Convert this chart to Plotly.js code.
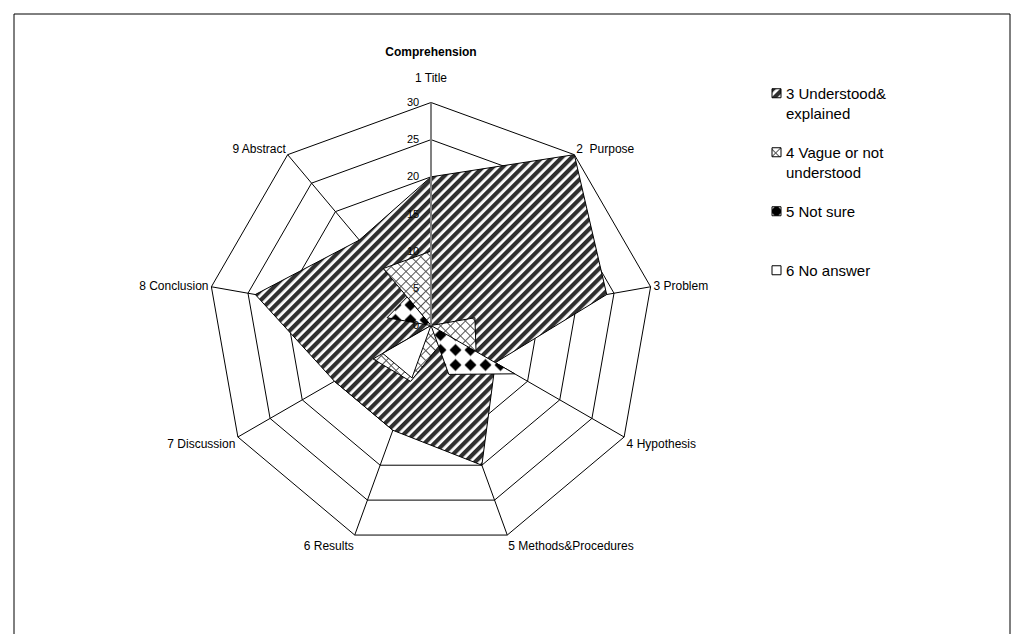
<!DOCTYPE html>
<html>
<head>
<meta charset="utf-8">
<script src="https://cdn.plot.ly/plotly-3.0.1.min.js"></script>
<style>
  html, body { margin: 0; padding: 0; background: #fff; }
  #plot { width: 1024px; height: 634px; }
</style>
</head>
<body>
<div id="plot"></div>
<script>
const categories = ['1 Title', '2  Purpose', '3 Problem', '4 Hypothesis', '5 Methods&Procedures',
    '6 Results', '7 Discussion', '8 Conclusion', '9 Abstract'];
const understood = [20, 30, 24, 10, 20, 15, 15, 24, 15];
const vague = [10, 0, 6, 7, 3, 8, 9, 0, 10];
const notSure = [0, 0, 0, 13, 7, 0, 0, 6, 5];
const noAnswer = [0, 0, 0, 0, 0, 7.5, 7.5, 0, 0];
const seriesNames = ['3 Understood&<br>explained', '4 Vague or not<br>understood', '5 Not sure<br> ', '6 No answer<br> '];
const radialTicks = [0, 5, 10, 15, 20, 25, 30];

const font = 'Liberation Sans, Arial, sans-serif';
const SVGNS = 'http://www.w3.org/2000/svg';

// close the polygon by repeating the first point
const closed = (arr) => arr.concat([arr[0]]);

// the top label sits a bit higher in the original, a small empty 2nd line lifts it
const angularText = categories.map((c, i) =>
    (i === 0 ? c + '<br><span style="font-size:5px"> </span>' : c));

function radarTrace(values, name) {
    return {
        type: 'scatterpolar',
        name,
        r: closed(values),
        theta: closed(categories),
        mode: 'lines',
        fill: 'toself',
        fillcolor: '#ffffff',
        line: { color: '#000000', width: 1 },
        hoverinfo: 'skip',
    };
}

const data = [
    radarTrace(understood, seriesNames[0]),
    radarTrace(vague, seriesNames[1]),
    radarTrace(notSure, seriesNames[2]),
    radarTrace(noAnswer, seriesNames[3]),
];
data.forEach((t, i) => { t.legendgroup = 'g' + i; });

const layout = {
    width: 1024,
    height: 634,
    margin: { l: 0, r: 0, t: 0, b: 0 },
    paper_bgcolor: '#ffffff',
    font: { family: font, color: '#000000', size: 12 },
    title: {
        text: '<b>Comprehension</b>',
        font: { family: font, size: 12, color: '#000000' },
        x: 431 / 1024,
        xanchor: 'center',
        y: 1 - 52 / 634,
        yanchor: 'middle',
    },
    showlegend: true,
    legend: {
        x: 746 / 1024,
        y: 1 - 77 / 634,
        xanchor: 'left',
        yanchor: 'top',
        valign: 'top',
        font: { family: font, size: 15, color: '#000000' },
        bgcolor: 'rgba(0,0,0,0)',
        itemwidth: 30,
        tracegroupgap: 17,
    },
    polar: {
        domain: { x: [208 / 1024, 654 / 1024], y: [1 - 549 / 634, 1 - 102 / 634] },
        bgcolor: '#ffffff',
        gridshape: 'linear',
        angularaxis: {
            type: 'category',
            categoryarray: categories,
            tickmode: 'array',
            tickvals: categories,
            ticktext: angularText,
            direction: 'clockwise',
            rotation: 90,
            showline: true,
            linecolor: '#000000',
            linewidth: 1,
            gridcolor: '#000000',
            gridwidth: 1,
            ticks: '',
            tickfont: { family: font, size: 12, color: '#000000' },
        },
        radialaxis: {
            range: [0, 30],
            tickvals: radialTicks,
            angle: 90,
            tickangle: 90,
            side: 'counterclockwise',
            showline: true,
            linecolor: '#808080',
            linewidth: 2,
            gridcolor: '#000000',
            gridwidth: 1,
            ticks: 'outside',
            ticklen: 7,
            tickcolor: 'rgba(0,0,0,0)',
            tickfont: { family: font, size: 11, color: '#000000' },
        },
    },
    shapes: [{
        type: 'rect', xref: 'paper', yref: 'paper',
        x0: 14 / 1024, x1: 1010 / 1024, y0: -0.2, y1: 1 - 14 / 634,
        line: { color: '#000000', width: 1 },
    }],
};

// Excel-like fill patterns, built as svg <pattern> elements
function el(tag, attrs, parent) {
    const node = document.createElementNS(SVGNS, tag);
    Object.keys(attrs).forEach((k) => node.setAttribute(k, attrs[k]));
    if (parent) parent.appendChild(node);
    return node;
}

function buildPatterns(defs) {
    // dark diagonal stripes
    const stripes = el('pattern', { id: 'pat-stripes', patternUnits: 'userSpaceOnUse',
        width: 7, height: 7, patternTransform: 'rotate(45)' }, defs);
    el('rect', { x: 0, y: 0, width: 7, height: 7, fill: '#ffffff' }, stripes);
    el('rect', { x: 0, y: 0, width: 4.2, height: 7, fill: '#2f2f2f' }, stripes);

    // thin diagonal mesh
    const mesh = el('pattern', { id: 'pat-mesh', patternUnits: 'userSpaceOnUse',
        width: 7, height: 7, patternTransform: 'rotate(45)' }, defs);
    el('rect', { x: 0, y: 0, width: 7, height: 7, fill: '#ffffff' }, mesh);
    el('path', { d: 'M0,0.5H7M0.5,0V7', stroke: '#555555', 'stroke-width': 1, fill: 'none' }, mesh);

    // black diamonds
    const dia = el('pattern', { id: 'pat-diamond', patternUnits: 'userSpaceOnUse',
        width: 15, height: 15 }, defs);
    el('rect', { x: 0, y: 0, width: 15, height: 15, fill: '#ffffff' }, dia);
    el('path', { d: 'M7.5,1.5L13.5,7.5L7.5,13.5L1.5,7.5Z', fill: '#000000' }, dia);

    // legend-size diamond swatch
    const diaSm = el('pattern', { id: 'pat-diamond-sm', patternUnits: 'objectBoundingBox',
        patternContentUnits: 'objectBoundingBox', width: 1, height: 1 }, defs);
    el('rect', { x: 0, y: 0, width: 1, height: 1, fill: '#000000' }, diaSm);
    el('path', { d: 'M0,0H0.3L0,0.3ZM1,0H0.7L1,0.3ZM0,1H0.3L0,0.7ZM1,1H0.7L1,0.7Z', fill: '#ffffff' }, diaSm);
}

const fills = ['url(#pat-stripes)', 'url(#pat-mesh)', 'url(#pat-diamond)', '#ffffff'];
const legendFills = ['url(#pat-stripes)', 'url(#pat-mesh)', 'url(#pat-diamond-sm)', '#ffffff'];

function applyPatterns(gd) {
    const svg = gd.querySelector('svg.main-svg');
    let defs = svg.querySelector('defs');
    if (!defs) defs = el('defs', {}, svg);
    buildPatterns(defs);

    gd.querySelectorAll('.polarlayer .scatterlayer .trace').forEach((g, i) => {
        const p = g.querySelector('path.js-fill');
        if (p) p.style.fill = fills[i];
    });

    // legend: small square swatches instead of the default fill/line glyphs
    gd.querySelectorAll('.legend .traces').forEach((g, i) => {
        g.querySelectorAll('.legendlines path').forEach((p) => { p.style.display = 'none'; });
        const p = g.querySelector('.legendfill path');
        if (p) {
            p.setAttribute('d', 'M26,-4.5h9v9h-9Z');
            p.style.fill = legendFills[i];
            p.style.stroke = '#000000';
            p.style.strokeWidth = '1px';
        }
    });
}

Plotly.newPlot('plot', data, layout, { displayModeBar: false, staticPlot: true })
    .then(applyPatterns);
</script>
</body>
</html>
